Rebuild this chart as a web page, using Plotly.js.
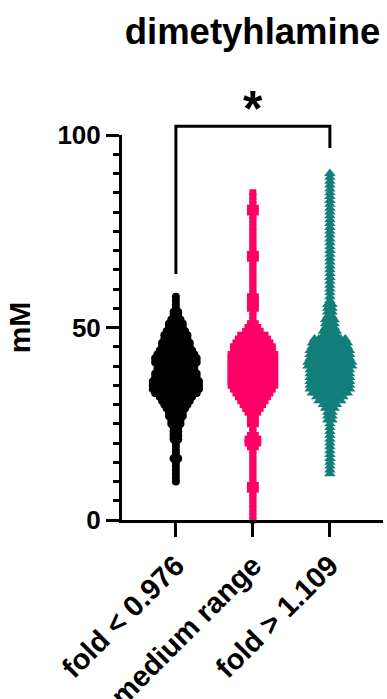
<!DOCTYPE html>
<html><head><meta charset="utf-8">
<script src="https://cdn.plot.ly/plotly-3.0.1.min.js"></script>
<style>html,body{margin:0;padding:0;background:#fff}#chart{width:387px;height:699px}</style>
</head><body><div id="chart"></div><script>
// ---- data (mM value rows and how many points sit in each row) ----
const categories = ['fold < 0.976', 'medium range', 'fold > 1.109'];
const yTicks = [0, 50, 100];

const lowValues = [58,57,56,55,54,53,52,51,50,49,48,47,46,45,44,43,42,41,40,39,38,37,36,35,34,33,32,31,30,29,28,27,26,25,24,23,22,21,20,19,18,17,16,15,14,13,12,11,10];
const lowCounts = [1,1,1,1,2,2,3,4,4,5,6,6,7,7,8,9,10,10,9,9,10,10,11,11,11,10,8,7,6,5,4,4,3,3,2,2,2,2,1,1,1,1,2,1,1,1,1,1,1];

const midValues = [85,84,83,82,81,80,79,78,77,76,75,74,73,72,71,70,69,68,67,66,65,64,63,62,61,60,59,58,57,56,55,54,53,52,51,50,49,48,47,46,45,44,43,42,41,40,39,38,37,36,35,34,33,32,31,30,29,28,27,26,25,24,23,22,21,20,19,18,17,16,15,14,13,12,11,10,9,8,7,6,5,4,3,2,1,0];
const midCounts = [1,1,1,1,2,2,1,1,1,1,1,1,1,1,1,1,2,2,1,1,1,1,1,1,1,1,1,2,2,2,2,1,1,1,2,3,4,6,7,8,9,9,10,10,10,10,10,10,10,10,10,9,8,7,6,5,4,3,2,2,2,1,1,2,3,3,2,1,1,1,1,1,1,1,1,1,2,2,1,1,1,1,1,1,1,1];

const highValues = [90,89,88,87,86,85,84,83,82,81,80,79,78,77,76,75,74,73,72,71,70,69,68,67,66,65,64,63,62,61,60,59,58,57,56,55,54,53,52,51,50,49,48,47,46,45,44,43,42,41,40,39,38,37,36,35,34,33,32,31,30,29,28,27,26,25,24,23,22,21,20,19,18,17,16,15,14,13,12];
const highCounts = [1,1,1,1,1,1,1,1,1,1,1,1,1,1,1,1,1,1,1,1,1,1,1,1,1,1,1,1,1,1,1,1,1,1,2,2,2,2,3,3,3,4,4,8,9,9,10,10,10,11,11,10,10,10,10,10,10,9,7,6,4,3,2,2,2,1,1,1,1,1,1,1,1,1,1,1,1,1,1];

const colors = ['#000000', '#FF0066', '#127F7A'];
const symbols = ['circle', 'square', 'triangle-up'];
const markerSizes = [8, 7, 10];
const spreads = [0.060, 0.063, 0.057];

// ---- beeswarm placement ----
const xRange = [-0.70, 2.69];
const yRange = [0, 100];
function swarm(values, counts, idx, dx) {
  const xs = [], ys = [];
  values.forEach((v, r) => {
    const n = counts[r];
    for (let i = 0; i < n; i++) { xs.push(idx + (i - (n - 1) / 2) * dx); ys.push(v); }
  });
  return {xs, ys};
}
const groups = [[lowValues, lowCounts], [midValues, midCounts], [highValues, highCounts]];
const traces = groups.map((g, k) => {
  const s = swarm(g[0], g[1], k, spreads[k]);
  return {
    type: 'scatter', mode: 'markers', x: s.xs, y: s.ys, cliponaxis: false,
    marker: {symbol: symbols[k], color: colors[k], size: markerSizes[k], line: {width: 0}},
    hoverinfo: 'skip', showlegend: false
  };
});

const xPaper = c => (c - xRange[0]) / (xRange[1] - xRange[0]);
const yPaper = v => (v - yRange[0]) / (yRange[1] - yRange[0]);
const bracketTop = 102.3, leftLeg = 63.9, rightLeg = 96.6;

const F = 'Liberation Sans, Arial, Helvetica, sans-serif';
const layout = {
  width: 387, height: 699,
  margin: {l: 122, r: 4, t: 135, b: 179},
  paper_bgcolor: '#fff', plot_bgcolor: '#fff',
  title: {text: 'dimetyhlamine', font: {family: F, size: 36.5, color: '#000', weight: 'bold'},
          x: 0.5, xref: 'paper', xanchor: 'center', y: 1 - 31 / 699, yref: 'container', yanchor: 'middle'},
  xaxis: {range: xRange, tickvals: [0, 1, 2], ticktext: categories, tickangle: -45,
          ticks: 'outside', ticklen: 14, tickwidth: 3, tickcolor: '#000',
          showline: true, linewidth: 3, linecolor: '#000', showgrid: false, zeroline: false,
          tickfont: {family: F, size: 29, color: '#000', weight: 'bold'}},
  yaxis: {range: yRange, tickvals: yTicks, ticktext: yTicks.map(String),
          ticks: 'outside', ticklen: 13, tickwidth: 3, tickcolor: '#000',
          minor: {dtick: 5, ticks: 'outside', ticklen: 6, tickwidth: 3, tickcolor: '#000', showgrid: false},
          showline: true, linewidth: 3, linecolor: '#000', showgrid: false, zeroline: false,
          tickfont: {family: F, size: 26, color: '#000', weight: 'bold'},
          title: {text: 'mM', font: {family: F, size: 30, color: '#000', weight: 'bold'}, standoff: 18}},
  shapes: [{type: 'path', xref: 'paper', yref: 'paper',
            path: `M ${xPaper(0)} ${yPaper(leftLeg)} L ${xPaper(0)} ${yPaper(bracketTop)} L ${xPaper(2)} ${yPaper(bracketTop)} L ${xPaper(2)} ${yPaper(rightLeg)}`,
            line: {color: '#000', width: 3}}],
  annotations: [{text: '*', xref: 'x', yref: 'paper', x: 1, y: yPaper(99), yanchor: 'bottom',
                 showarrow: false, font: {family: F, size: 50, color: '#000', weight: 'bold'}}]
};
Plotly.newPlot('chart', traces, layout, {displayModeBar: false, staticPlot: true});
</script></body></html>
